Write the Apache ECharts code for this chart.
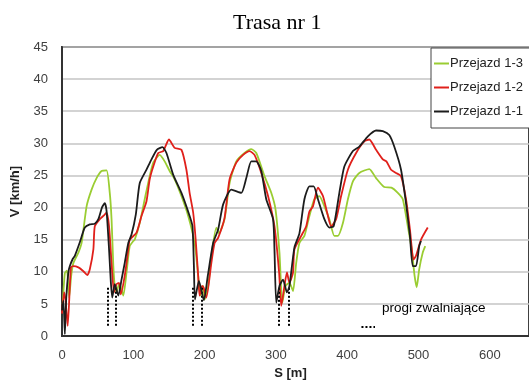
<!DOCTYPE html>
<html>
<head>
<meta charset="utf-8">
<script src="https://cdn.jsdelivr.net/npm/echarts@6.0.0/dist/echarts.min.js"></script>
<style>
  html, body { margin: 0; padding: 0; background: #fff; }
  #chart { width: 529px; height: 385px; }
</style>
</head>
<body>
<div id="chart"></div>
<script>
// Speed V [km/h] against distance S [m] for three runs of route 1
const seriesNames = ['Przejazd 1-3', 'Przejazd 1-2', 'Przejazd 1-1'];

const run13 = [
  [1, 5], [4, 9.8], [7, 10.2], [10, 6], [13, 9.5], [16, 11.4], [23, 13], [27.5, 14.5],
  [34.5, 20.2], [41.5, 22.8], [48.5, 24.6], [55.5, 25.7], [62.5, 25.8], [67, 22.3],
  [69.5, 18.2], [72, 10.9], [74, 7.8], [76.5, 6.8], [80, 8.1], [82, 7.8], [86, 6.3],
  [90.5, 9.9], [95, 14], [100, 14.8], [102, 15], [109, 17.6], [116, 21.3], [123, 24.9],
  [128, 27], [133, 27.8], [137, 28.2], [144, 27.2], [151, 25.7], [158, 24.4],
  [167.5, 21.8], [177, 18.7], [186, 14.5], [191, 9.4], [194, 6.3], [198, 7.8], [200, 5.7],
  [205, 7.8], [209.5, 12.5], [216.5, 16.9], [220, 16], [228, 18.2], [235, 23.8],
  [244.5, 27.2], [256, 28.5], [265.5, 29.1], [272.5, 28.5], [284, 24.9], [293.5, 22.3],
  [299.5, 19.7], [305, 13], [309, 5.2], [313.5, 7.8], [319, 8.3], [324, 7], [328.5, 11.4],
  [333, 14.5], [340, 15.6], [347, 18.7], [354, 21.3], [361, 21.8], [368, 20.2],
  [375, 18.2], [382, 15.6], [387, 15.6], [394, 17.6], [401, 21.3], [408, 24.1],
  [417, 25.4], [431, 26], [440.5, 24.6], [452, 23.2], [462, 23.1], [471, 22.3],
  [478, 21.3], [485, 17.1], [490.5, 13.5], [494.5, 9.4], [497.5, 7.6], [501, 10.4],
  [506, 13], [509.5, 14]
];

const run12 = [
  [0, 3.5], [3, 6.8], [5, 5.5], [8, 1.6], [12.5, 10.7], [16, 10.9], [23, 10.7], [30, 10.1],
  [35.5, 9.5], [39, 10.4], [44, 13.5], [46, 17.1], [53, 18.2], [58, 18.7], [62.5, 19.2],
  [66, 17.1], [69.5, 11.4], [73, 6.8], [76.5, 8.1], [80, 8.3], [82.5, 6.5], [88, 9.4],
  [93, 13.5], [95, 15], [104.5, 16.1], [111.5, 18.7], [118.5, 21], [123, 24.4],
  [128, 26.4], [135, 28.5], [142, 28.8], [150, 30.6], [158, 29.3], [167.5, 29],
  [174.5, 25.9], [179, 22.3], [184, 19.2], [187.5, 15], [191, 9.4], [193, 6.3],
  [196.5, 7.8], [198.5, 7.6], [202.5, 6], [209.5, 11.4], [214, 14.5], [219, 15.3],
  [228, 18.4], [235, 24.4], [244.5, 27], [254, 28.2], [263, 28.8], [270, 28.2],
  [279.5, 25.4], [289, 21.8], [298, 17.1], [304.5, 9.9], [307.5, 4.7], [312, 7.8],
  [315.5, 9.9], [319, 8.3], [324, 9.9], [326, 13.5], [335.5, 15.6], [342.5, 17.1],
  [347, 19.4], [352, 20.2], [359, 23.1], [366, 21.8], [373, 18.7], [377.5, 17.1],
  [384.5, 18.2], [391.5, 21.8], [401, 25.9], [412.5, 28.5], [424, 30.3], [431, 30.6],
  [440.5, 29], [450, 27.5], [455, 27.2], [461.5, 25.9], [468.5, 25.4], [475.5, 24.9],
  [482.5, 21.3], [488, 16.6], [493, 11.9], [496.5, 12.5], [503.5, 15], [513, 16.9]
];

const run11 = [
  [0, 4], [2, 5.5], [4, 0.3], [6, 6], [9, 10], [11, 10.9], [15, 12], [18, 12.5],
  [25, 14.6], [32, 16.9], [39, 17.4], [46, 17.5], [51, 18.2], [56, 20], [60, 20.7],
  [62.5, 19.5], [66, 13.5], [68.5, 8.4], [70.5, 6], [74, 8.1], [79, 6.3], [83.5, 8.8],
  [88, 11.4], [93, 14.5], [97.5, 15.8], [103.5, 18.9], [109, 23.8], [118.5, 25.9],
  [125.5, 27.5], [133, 29], [141, 29.4], [146.5, 28.5], [156, 25.1], [167.5, 22.3],
  [179, 18.7], [183, 17.1], [185, 10.9], [186.5, 5.7], [192, 8.6], [199, 5.6],
  [204.5, 9.4], [212, 14.5], [219, 16.6], [226, 20.5], [237.5, 22.8], [251.5, 22.3],
  [258.5, 24.6], [265.5, 27.2], [272.5, 27.2], [279.5, 25.7], [286.5, 21.3], [296, 18.2],
  [298, 13.5], [300.5, 5.2], [305, 7.8], [310, 8.8], [315.5, 6.8], [319, 7.8], [326, 13.8],
  [333, 16], [340, 21.3], [347, 23.3], [353, 23.3], [359, 21.3], [368, 18.2], [375, 16.9],
  [381, 17.1], [389, 22.3], [396, 26.4], [408, 28.8], [417, 29.5], [429, 31.1],
  [440.5, 32], [450, 31.9], [459, 31.3], [466, 29.5], [475.5, 25.9], [482.5, 20.7],
  [488, 15.6], [492, 10.9], [496.5, 10.9], [501, 14], [503.5, 14.8]
];

// Speed bump positions [m] and the speed span of their dotted markers
const bumpPositions = [64, 75.5, 183, 195.5, 304, 317.5];
const bumpSpan = [1.6, 7.8];
// Short dotted key drawn next to the bump caption
const bumpKey = [[420, 1.5], [439, 1.5]];
const bumpCaption = 'progi zwalniające';

const xTicks = { min: 0, max: 655, interval: 100 };
const yTicks = { min: 0, max: 45, interval: 5 };

const colors = ['#9acd32', '#e0201b', '#1c1c1c'];
const runs = [run13, run12, run11];

const chart = echarts.init(document.getElementById('chart'), null, { renderer: 'canvas' });

const bumpLines = bumpPositions.map(s => [
  { coord: [s, bumpSpan[0]] },
  { coord: [s, bumpSpan[1]] }
]);
bumpLines.push([{ coord: bumpKey[0] }, { coord: bumpKey[1] }]);

const lineSeries = runs.map((d, i) => ({
  name: seriesNames[i],
  type: 'line',
  data: d,
  symbol: 'none',
  smooth: 0.2,
  lineStyle: { color: colors[i], width: 1.8 },
  itemStyle: { color: colors[i] },
  z: 3 + i
}));

lineSeries.push({
  name: 'bumps',
  type: 'line',
  data: [],
  symbol: 'none',
  markLine: {
    silent: true,
    symbol: ['none', 'none'],
    label: { show: false },
    lineStyle: { color: '#000', width: 2, type: [2, 2] },
    data: bumpLines
  },
  z: 6
});

const font = 'Liberation Sans, Arial, sans-serif';

chart.setOption({
  animation: false,
  backgroundColor: '#fff',
  title: {
    text: 'Trasa nr 1',
    left: 228,
    top: 7,
    textStyle: {
      fontFamily: 'Liberation Serif, Times New Roman, serif',
      fontSize: 22,
      fontWeight: 'normal',
      color: '#000'
    }
  },
  grid: {
    show: true,
    left: 62,
    top: 47,
    right: 0,
    bottom: 48,
    borderColor: '#404040',
    borderWidth: 2,
    backgroundColor: '#fff'
  },
  legend: {
    data: seriesNames.map(n => ({ name: n, icon: 'rect' })),
    orient: 'vertical',
    left: 431,
    top: 48,
    itemWidth: 15,
    itemHeight: 2,
    itemGap: 9,
    padding: [8, 24, 9, 3],
    backgroundColor: '#fff',
    borderColor: '#444',
    borderWidth: 1,
    borderRadius: 0,
    textStyle: { fontFamily: font, fontSize: 13, color: '#222', padding: [0, 0, 0, -4], lineHeight: 15 }
  },
  xAxis: {
    type: 'value',
    min: xTicks.min,
    max: xTicks.max,
    interval: xTicks.interval,
    name: 'S [m]',
    nameLocation: 'middle',
    nameGap: 29,
    nameTextStyle: { fontFamily: font, fontSize: 13, fontWeight: 'bold', color: '#222', padding: [0, 10, 0, 0] },
    axisLine: { show: true, lineStyle: { color: '#333', width: 2 } },
    axisTick: { show: false },
    splitLine: { show: false },
    axisLabel: {
      fontFamily: font, fontSize: 13, color: '#404040', margin: 13,
      showMaxLabel: false
    }
  },
  yAxis: {
    type: 'value',
    min: yTicks.min,
    max: yTicks.max,
    interval: yTicks.interval,
    name: 'V [km/h]',
    nameLocation: 'middle',
    nameGap: 40,
    nameTextStyle: { fontFamily: font, fontSize: 13, fontWeight: 'bold', color: '#222' },
    axisLine: { show: true, lineStyle: { color: '#333', width: 2 } },
    axisTick: { show: false },
    splitLine: { show: true, lineStyle: { color: '#c4c4c4', width: 1.5 } },
    axisLabel: { fontFamily: font, fontSize: 13, color: '#404040', margin: 14 }
  },
  graphic: [{
    type: 'text',
    left: 382,
    top: 301,
    style: {
      text: bumpCaption,
      font: '13.5px Liberation Sans, Arial, sans-serif',
      fill: '#000'
    },
    z: 10
  }],
  series: lineSeries
});
</script>
</body>
</html>
